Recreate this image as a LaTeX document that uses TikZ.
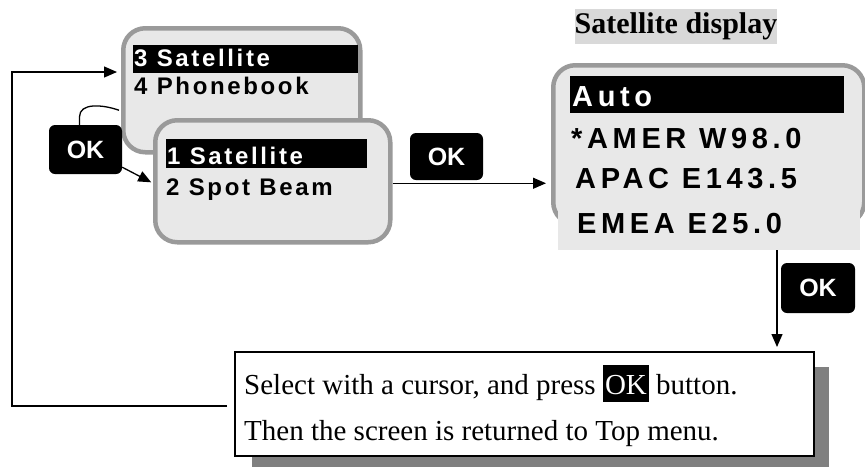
\documentclass[tikz,border=0pt]{standalone}
\usepackage{fontspec}
\setmainfont{Liberation Serif}
\newfontfamily\menufont[LetterSpace=11]{Liberation Sans Bold}
\newfontfamily\bigfont[LetterSpace=16]{Liberation Sans Bold}
\newfontfamily\okfont{Liberation Sans Bold}
\usetikzlibrary{arrows.meta,calc}
\definecolor{scrfill}{HTML}{E8E8E8}
\definecolor{scrborder}{HTML}{9A9A9A}
\definecolor{shadowgray}{HTML}{808080}
\definecolor{titlebg}{HTML}{D9D9D9}
\newcommand{\okhl}{{\setlength\fboxsep{2pt}\colorbox{black}{\rule[-6pt]{0pt}{33pt}\textcolor{white}{OK}}}}
\begin{document}
\begin{tikzpicture}[x=1pt,y=-1pt,
 screen/.style={draw=scrborder, line width=4.5pt, fill=scrfill, rounded corners=22pt, anchor=north west, inner sep=0pt},
 bar/.style={fill=black, inner sep=0pt, anchor=north west},
 menutxt/.style={anchor=base west, inner sep=0pt, font=\menufont\fontsize{24}{24}\selectfont},
 bigtxt/.style={anchor=base west, inner sep=0pt, font=\bigfont\fontsize{29}{29}\selectfont},
 okbtn/.style={fill=black, text=white, rounded corners=6pt, font=\okfont\fontsize{25}{25}\selectfont, inner sep=0pt},
 conn/.style={line width=1.3pt, -{Triangle[length=13pt,width=11pt]}},
 plain/.style={line width=1.3pt},
 bodytxt/.style={anchor=base west, inner sep=0pt, font=\fontsize{29}{29}\selectfont}
]
\useasboundingbox (0,0) rectangle (865,467);

% title
\node[fill=titlebg, minimum width=200pt, minimum height=35pt, inner sep=0pt,
      font=\bfseries\fontsize{30}{30}\selectfont] (title) at (676,26) {Satellite display};

% screen 1
\node[screen, minimum width=237pt, minimum height=124pt] (s1) at (121,26) {};
\node[bar, minimum width=225pt, minimum height=28pt] (b1) at (133,45) {};
\node[menutxt, text=white] (t11) at (134,66) {3 Satellite};
\node[menutxt] (t12) at (134,94) {4 Phonebook};

% screen 2
\node[screen, minimum width=235pt, minimum height=122pt] (s2) at (153,118) {};
\node[bar, minimum width=201pt, minimum height=29pt] (b2) at (166,139) {};
\node[menutxt, text=white] (t21) at (167,164) {1 Satellite};
\node[menutxt] (t22) at (166,195) {2 Spot Beam};

% screen 3
\node[screen, minimum width=311pt, minimum height=159pt] (s3) at (551,63) {};
\node[fill=scrfill, inner sep=0pt, anchor=north west, minimum width=302pt, minimum height=55pt] (panel) at (558,195) {};
\node[bar, minimum width=274pt, minimum height=37pt] (b3) at (570,76) {};
\node[bigtxt, text=white] (t31) at (572,106) {Auto};
\node[bigtxt] (t32) at (571,148) {*AMER W98.0};
\node[bigtxt] (t33) at (575,188) {APAC E143.5};
\node[bigtxt] (t34) at (577,233) {EMEA E25.0};

% OK buttons
\node[okbtn, minimum width=73pt, minimum height=49pt] (ok1) at (85.5,149.5) {OK};
\node[okbtn, minimum width=73pt, minimum height=47pt] (ok2) at (446.5,156.5) {OK};
\node[okbtn, minimum width=74pt, minimum height=50pt] (ok3) at (818,288) {OK};

% text box with shadow
\fill[shadowgray] (252,367) rectangle (829,467);
\node[draw=black, line width=1.5pt, fill=white, anchor=north west, inner sep=0pt,
      minimum width=579pt, minimum height=104pt] (tb) at (234,351) {};
\node[bodytxt] (l1) at (244,394) {Select with a cursor, and press \okhl{} button.};
\node[bodytxt] (l2) at (244,440) {Then the screen is returned to Top menu.};

% connectors
\draw[plain] ($(ok1.north)+(-6,0)$) -- ++(0,-8) .. controls +(0,-14) and +(-17,-6) .. ($(s1.west)+(-2,20)$);
\draw[conn, shorten >=2pt] ($(ok1.south east)+(0,-7)$) -- ($(s2.west)+(0,2)$);
\draw[conn, shorten >=5pt] ($(s2.east)+(0,2)$) -- ($(s3.west |- s2.east)+(0,2)$);
\coordinate (vtop) at (777,250);
\draw[conn, shorten >=4pt] (vtop) -- (vtop |- tb.north);
\coordinate (lstart) at (227,406);
\coordinate (lcorner) at (12,72);
\draw[conn, shorten >=4pt] (lstart) -- (lstart -| lcorner) -- (lcorner) -- (lcorner -| s1.west);
\end{tikzpicture}
\end{document}
